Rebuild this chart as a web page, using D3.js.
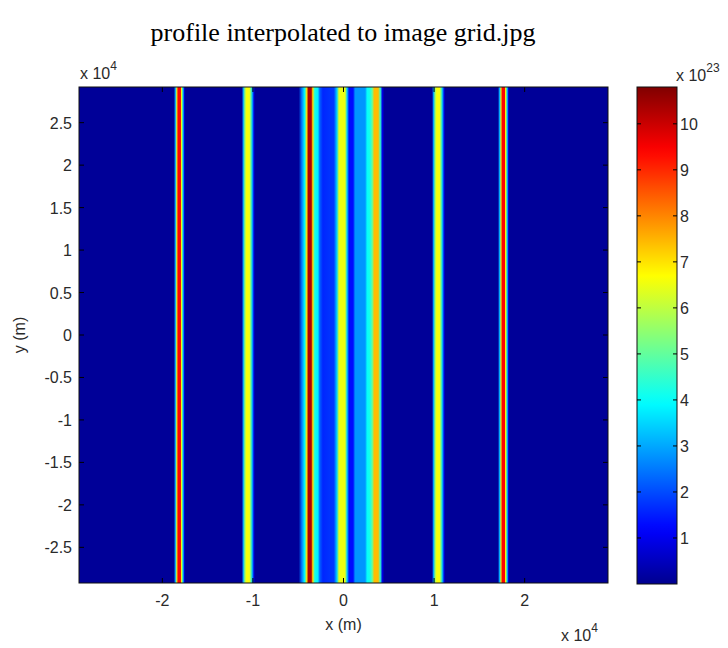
<!DOCTYPE html>
<html>
<head>
<meta charset="utf-8">
<script src="https://cdn.jsdelivr.net/npm/d3@7"></script>
<style>
  body { margin: 0; background: #fff; }
  svg text { font-family: "Liberation Sans", Arial, sans-serif; fill: #2a2a2a; }
</style>
</head>
<body>
<div id="chart"></div>
<script>
'use strict';

// profile along x (units of 1e4 m) and value (units of 1e23), constant along y
const background = 0.1;
const profileX = [
  -1.872, -1.856, -1.840, -1.828, -1.800, -1.789, -1.772, -1.756, -1.744,
  -1.122, -1.106, -1.089, -1.072, -1.039, -1.022, -1.006, -0.989, -0.978,
  -0.494, -0.461, -0.428, -0.406, -0.389, -0.356, -0.339, -0.317, -0.283, -0.261, -0.228,
  -0.106, -0.072, -0.050, 0.017, 0.039, 0.061, 0.106, 0.128, 0.239, 0.261, 0.294,
  0.317, 0.339, 0.383, 0.406, 0.428, 0.450,
  0.978, 0.994, 1.011, 1.028, 1.061, 1.078, 1.094, 1.111, 1.122,
  1.706, 1.722, 1.739, 1.750, 1.778, 1.789, 1.806, 1.822, 1.833
];
const profileV = [
  0.1, 3.0, 6.5, 9.4, 9.4, 6.5, 3.5, 0.8, 0.1,
  0.1, 3.0, 5.5, 6.6, 6.6, 5.0, 3.0, 1.0, 0.1,
  0.1, 2.5, 4.0, 7.0, 10.3, 10.3, 7.0, 4.2, 3.8, 2.2, 1.6,
  1.8, 3.5, 6.5, 6.5, 3.5, 1.3, 1.3, 2.8, 2.8, 4.0, 4.2,
  5.0, 7.4, 7.4, 4.5, 1.0, 0.1,
  0.1, 3.0, 5.5, 6.6, 6.6, 5.0, 3.0, 1.0, 0.1,
  0.1, 3.0, 6.5, 9.4, 9.4, 6.5, 3.5, 0.8, 0.1
];

const xTicks = [-2, -1, 0, 1, 2];
const yTicks = [2.5, 2, 1.5, 1, 0.5, 0, -0.5, -1, -1.5, -2, -2.5];
const cbTicks = [1, 2, 3, 4, 5, 6, 7, 8, 9, 10];
const extent = [-2.92, 2.92];
const cRange = [0, 10.8];

const W = 728, H = 648;
const plot = { left: 79, right: 608, top: 87, bottom: 583 };
const cbar = { left: 637, right: 677, top: 87, bottom: 584 };
const fs = 16;

const svg = d3.select('#chart').append('svg')
  .attr('width', W).attr('height', H);

const x = d3.scaleLinear().domain(extent).range([plot.left, plot.right]);
const y = d3.scaleLinear().domain(extent).range([plot.bottom, plot.top]);
const cb = d3.scaleLinear().domain(cRange).range([cbar.bottom, cbar.top]);

// jet colormap
const jetT = d3.scaleLinear()
  .domain([0, 0.11, 0.365, 0.62, 0.873, 1])
  .range(['#00008f', '#0000ff', '#00ffff', '#ffff00', '#ff0000', '#800000'])
  .clamp(true);
const color = v => jetT((v - cRange[0]) / (cRange[1] - cRange[0]));

const defs = svg.append('defs');

// image gradient along x
const grad = defs.append('linearGradient')
  .attr('id', 'profile')
  .attr('gradientUnits', 'userSpaceOnUse')
  .attr('x1', x(extent[0])).attr('x2', x(extent[1]))
  .attr('y1', 0).attr('y2', 0);
const stops = [{ x: extent[0], v: background }]
  .concat(profileX.map((d, i) => ({ x: d, v: profileV[i] })))
  .concat([{ x: extent[1], v: background }]);
grad.selectAll('stop').data(stops).enter().append('stop')
  .attr('offset', d => (x(d.x) - x(extent[0])) / (x(extent[1]) - x(extent[0])))
  .attr('stop-color', d => color(d.v));

svg.append('rect')
  .attr('x', x(extent[0])).attr('y', y(extent[1]))
  .attr('width', x(extent[1]) - x(extent[0]))
  .attr('height', y(extent[0]) - y(extent[1]))
  .attr('fill', 'url(#profile)');

// axes (MATLAB style: inward ticks, box)
const tickLen = 5;
const gx = svg.append('g');
xTicks.forEach(t => {
  gx.append('line').attr('x1', x(t)).attr('x2', x(t))
    .attr('y1', plot.bottom).attr('y2', plot.bottom - tickLen).attr('stroke', '#000');
  gx.append('line').attr('x1', x(t)).attr('x2', x(t))
    .attr('y1', plot.top).attr('y2', plot.top + tickLen).attr('stroke', '#000');
  gx.append('text').attr('x', x(t)).attr('y', plot.bottom + 23)
    .attr('text-anchor', 'middle').attr('font-size', fs).text(t);
});
const gy = svg.append('g');
yTicks.forEach(t => {
  gy.append('line').attr('y1', y(t)).attr('y2', y(t))
    .attr('x1', plot.left).attr('x2', plot.left + tickLen).attr('stroke', '#000');
  gy.append('line').attr('y1', y(t)).attr('y2', y(t))
    .attr('x1', plot.right).attr('x2', plot.right - tickLen).attr('stroke', '#000');
  gy.append('text').attr('x', plot.left - 7).attr('y', y(t) + 6)
    .attr('text-anchor', 'end').attr('font-size', fs).text(t);
});
svg.append('rect')
  .attr('x', plot.left).attr('y', plot.top)
  .attr('width', plot.right - plot.left).attr('height', plot.bottom - plot.top)
  .attr('fill', 'none').attr('stroke', '#111').attr('stroke-width', 1);

// exponent labels
function expLabel(px, py, exp) {
  const t = svg.append('text').attr('x', px).attr('y', py).attr('font-size', fs);
  t.append('tspan').text('x 10');
  t.append('tspan').attr('dy', -9).attr('font-size', 12).text(exp);
}
expLabel(plot.left + 1, 79, '4');
expLabel(561, 641, '4');
expLabel(676, 81, '23');

// axis titles
svg.append('text').attr('x', (plot.left + plot.right) / 2).attr('y', plot.bottom + 47)
  .attr('text-anchor', 'middle').attr('font-size', fs).text('x (m)');
svg.append('text')
  .attr('transform', `translate(25,${(plot.top + plot.bottom) / 2}) rotate(-90)`)
  .attr('text-anchor', 'middle').attr('font-size', fs).text('y (m)');

// title
svg.append('text').attr('x', 343).attr('y', 41)
  .attr('text-anchor', 'middle')
  .style('font-family', '"Liberation Serif", "Times New Roman", serif')
  .style('fill', '#000')
  .attr('font-size', 26).text('profile interpolated to image grid.jpg');

// colorbar
const cbGrad = defs.append('linearGradient')
  .attr('id', 'cbar').attr('x1', 0).attr('x2', 0).attr('y1', 1).attr('y2', 0);
const cbSteps = d3.range(0, 1.0001, 0.02);
cbGrad.selectAll('stop').data(cbSteps).enter().append('stop')
  .attr('offset', d => d)
  .attr('stop-color', d => jetT(d));
svg.append('rect')
  .attr('x', cbar.left).attr('y', cbar.top)
  .attr('width', cbar.right - cbar.left).attr('height', cbar.bottom - cbar.top)
  .attr('fill', 'url(#cbar)').attr('stroke', '#111');
cbTicks.forEach(t => {
  svg.append('line').attr('y1', cb(t)).attr('y2', cb(t))
    .attr('x1', cbar.left).attr('x2', cbar.left + 4).attr('stroke', '#000');
  svg.append('line').attr('y1', cb(t)).attr('y2', cb(t))
    .attr('x1', cbar.right).attr('x2', cbar.right - 4).attr('stroke', '#000');
  svg.append('text').attr('x', cbar.right + 3).attr('y', cb(t) + 6)
    .attr('font-size', fs).text(t);
});
</script>
</body>
</html>
